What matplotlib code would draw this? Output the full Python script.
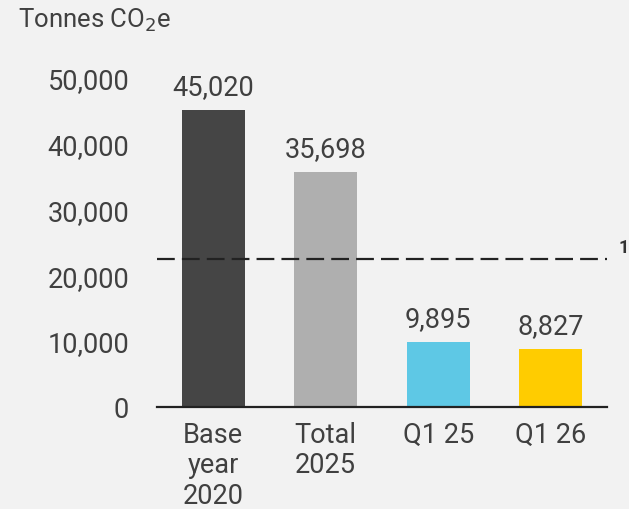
import matplotlib.pyplot as plt

plt.rcParams['font.family'] = ['Roboto', 'DejaVu Sans']

categories = ["Base\nyear\n2020", "Total\n2025", "Q1 25", "Q1 26"]
values = [45020, 35698, 9895, 8827]
bar_labels = ["45,020", "35,698", "9,895", "8,827"]
colors = ["#454545", "#afafaf", "#5ec8e5", "#ffcc00"]
target = 22500
yticks = [0, 10000, 20000, 30000, 40000, 50000]

TEXT = "#404040"
BG = "#f2f2f2"

fig = plt.figure(figsize=(6.29, 5.10), dpi=100, facecolor=BG)
ax = fig.add_axes([157 / 629, 102 / 510, 450 / 629, 343 / 510], facecolor=BG)

x = range(len(values))
ax.bar(x, values, width=0.56, color=colors, zorder=2)
for xi, v, lab in zip(x, values, bar_labels):
    ax.annotate(lab, (xi, v), xytext=(0, 7), textcoords="offset points",
                ha="center", va="bottom", fontsize=19.5, color=TEXT)

ax.axhline(target, color="#222222", lw=1.6, dashes=(8, 3.2), zorder=3)
ax.text(1.025, target + 1800, "1", transform=ax.get_yaxis_transform(),
        fontsize=13, color="#333333", ha="left", va="center", fontweight="bold")

ax.set_xlim(-0.5, 3.5)
ax.set_ylim(0, 52000)
ax.set_yticks(yticks)
ax.set_yticklabels([f"{t:,}" for t in yticks])
ax.set_xticks(list(x))
ax.set_xticklabels(categories, linespacing=1.17)
ax.tick_params(axis="y", length=0, pad=20, labelsize=19.5, labelcolor=TEXT)
ax.tick_params(axis="x", length=0, pad=10, labelsize=19.5, labelcolor=TEXT)

for s in ["top", "right", "left"]:
    ax.spines[s].set_visible(False)
ax.spines["bottom"].set_color("#222222")
ax.spines["bottom"].set_linewidth(1.6)
ax.spines["bottom"].set_zorder(4)

fig.text(18 / 629, 1 - 20 / 510, "Tonnes CO$_2$e", fontsize=18.5, color=TEXT,
         ha="left", va="center")

fig.savefig("out.png", dpi=100, facecolor=BG)
